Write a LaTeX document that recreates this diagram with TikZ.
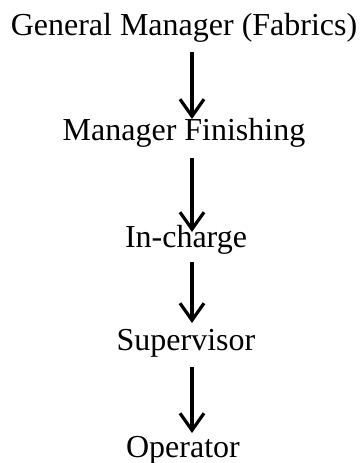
\documentclass[tikz,border=0pt]{standalone}
\usepackage{fontspec}
\setmainfont{Liberation Serif}
\usetikzlibrary{arrows.meta}
\begin{document}
\begin{tikzpicture}[x=1pt,y=-1pt,
  level/.style={anchor=base,inner sep=0pt,font=\fontsize{32}{32}\selectfont},
  down/.style={line width=3.2pt,-{Straight Barb[length=17pt,width=24pt,line width=3.2pt]}}]
  \useasboundingbox (0,0) rectangle (361,463);
  \node[level] (gm) at (184,35) {General Manager (Fabrics)};
  \node[level] (mf) at (184,140) {Manager Finishing};
  \node[level] (ic) at (186,247) {In-charge};
  \node[level] (sv) at (186,350) {Supervisor};
  \node[level] (op) at (183,457) {Operator};
  \coordinate (a1) at (192,52);  \coordinate (b1) at (192,119);
  \coordinate (a2) at (192,158); \coordinate (b2) at (192,232);
  \coordinate (a3) at (192,262); \coordinate (b3) at (192,323);
  \coordinate (a4) at (192,367); \coordinate (b4) at (192,433);
  \draw[down] (a1) -- (b1);
  \draw[down] (a2) -- (b2);
  \draw[down] (a3) -- (b3);
  \draw[down] (a4) -- (b4);
\end{tikzpicture}
\end{document}
